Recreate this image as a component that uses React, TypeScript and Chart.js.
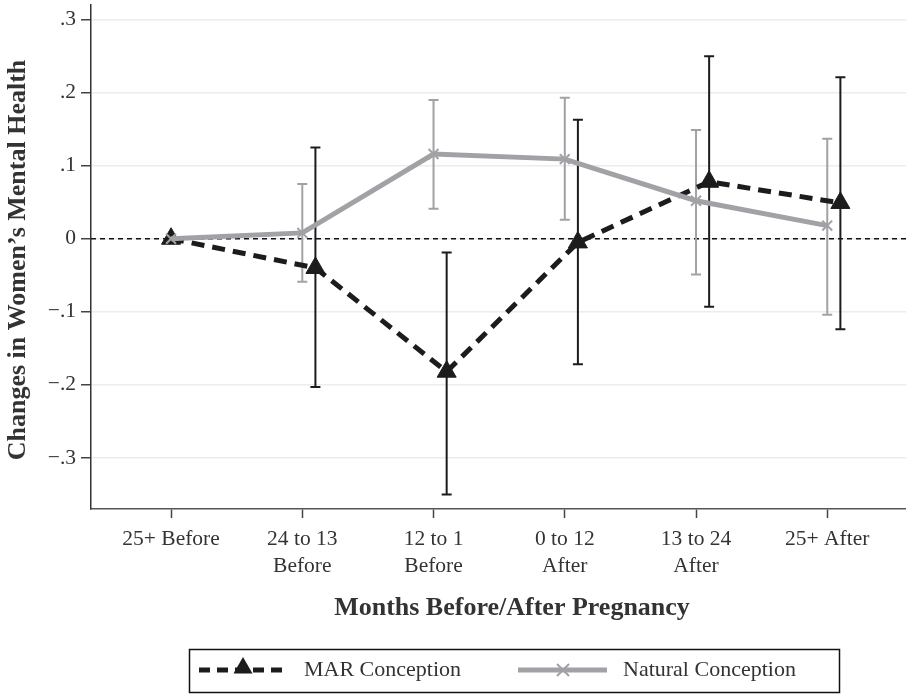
import React, { useEffect, useRef } from "react";
import { Chart, registerables } from "chart.js";

Chart.register(...registerables);

const categories: string[][] = [
  ["25+ Before"],
  ["24 to 13", "Before"],
  ["12 to 1", "Before"],
  ["0 to 12", "After"],
  ["13 to 24", "After"],
  ["25+ After"],
];
const marEstimate = [0, -0.04, -0.182, -0.005, 0.078, 0.049];
const marLower = [null, -0.203, -0.35, -0.172, -0.093, -0.124];
const marUpper = [null, 0.125, -0.019, 0.163, 0.25, 0.221];
const natEstimate = [0, 0.008, 0.116, 0.109, 0.052, 0.018];
const natLower = [null, -0.059, 0.041, 0.026, -0.049, -0.104];
const natUpper = [null, 0.075, 0.19, 0.193, 0.149, 0.137];
const yTicks = [-0.3, -0.2, -0.1, 0, 0.1, 0.2, 0.3];
const xTitle = "Months Before/After Pregnancy";
const yTitle = "Changes in Women\u2019s Mental Health";
const legendLabels = ["MAR Conception", "Natural Conception"];

const MAR_COLOR = "#1c1c1c";
const NAT_COLOR = "#a2a2a6";
const TEXT_COLOR = "#333333";
const SERIF = "'Liberation Serif', 'Times New Roman', serif";
const MAR_SHIFT = 0.1;

const marX = (i: number) => i + (i === 0 ? 0 : MAR_SHIFT);

function fmtTick(v: number): string {
  if (Math.abs(v) < 1e-9) return "0";
  return (v < 0 ? "\u2212" : "") + "." + Math.round(Math.abs(v) * 10);
}

function drawTriangle(ctx: CanvasRenderingContext2D, x: number, y: number, r: number, color: string) {
  ctx.save();
  ctx.fillStyle = color;
  ctx.beginPath();
  let a = 0;
  ctx.moveTo(x + Math.sin(a) * r, y - Math.cos(a) * r);
  a += (2 * Math.PI) / 3;
  ctx.lineTo(x + Math.sin(a) * r, y - Math.cos(a) * r);
  a += (2 * Math.PI) / 3;
  ctx.lineTo(x + Math.sin(a) * r, y - Math.cos(a) * r);
  ctx.closePath();
  ctx.fill();
  ctx.restore();
}

function drawX(ctx: CanvasRenderingContext2D, x: number, y: number, r: number, color: string) {
  ctx.save();
  ctx.strokeStyle = color;
  ctx.lineWidth = 2;
  ctx.beginPath();
  ctx.moveTo(x - r, y - r);
  ctx.lineTo(x + r, y + r);
  ctx.moveTo(x - r, y + r);
  ctx.lineTo(x + r, y - r);
  ctx.stroke();
  ctx.restore();
}

const decorPlugin = {
  id: "decor",
  beforeDatasetsDraw(chart: any) {
    const { ctx, scales, chartArea } = chart;
    const xs = scales.x;
    const ys = scales.y;
    ctx.save();
    ctx.strokeStyle = "#111";
    ctx.lineWidth = 1.6;
    ctx.setLineDash([5, 4]);
    ctx.beginPath();
    const y0 = ys.getPixelForValue(0);
    ctx.moveTo(chartArea.left, y0);
    ctx.lineTo(chartArea.right, y0);
    ctx.stroke();
    ctx.restore();

    const drawBars = (lo: (number | null)[], hi: (number | null)[], xf: (i: number) => number, color: string) => {
      ctx.save();
      ctx.strokeStyle = color;
      ctx.lineWidth = 2;
      ctx.setLineDash([]);
      for (let i = 0; i < lo.length; i++) {
        const l = lo[i];
        const h = hi[i];
        if (l === null || h === null) continue;
        const px = xs.getPixelForValue(xf(i));
        const pl = ys.getPixelForValue(l);
        const ph = ys.getPixelForValue(h);
        ctx.beginPath();
        ctx.moveTo(px, pl);
        ctx.lineTo(px, ph);
        ctx.moveTo(px - 5, pl);
        ctx.lineTo(px + 5, pl);
        ctx.moveTo(px - 5, ph);
        ctx.lineTo(px + 5, ph);
        ctx.stroke();
      }
      ctx.restore();
    };
    drawBars(natLower, natUpper, (i) => i, NAT_COLOR);
    drawBars(marLower, marUpper, marX, MAR_COLOR);
  },
  afterDraw(chart: any) {
    const { ctx } = chart;
    ctx.save();
    ctx.fillStyle = TEXT_COLOR;
    ctx.font = `bold 26px ${SERIF}`;
    ctx.textAlign = "center";
    ctx.textBaseline = "middle";
    ctx.save();
    ctx.translate(18, 260);
    ctx.rotate(-Math.PI / 2);
    ctx.fillText(yTitle, 0, 0);
    ctx.restore();
    ctx.fillText(xTitle, 512, 608);

    ctx.strokeStyle = "#111";
    ctx.lineWidth = 1.5;
    ctx.strokeRect(189.5, 649.5, 650, 43);
    const ly = 670;
    ctx.save();
    ctx.strokeStyle = MAR_COLOR;
    ctx.lineWidth = 5;
    ctx.setLineDash([11, 7]);
    ctx.beginPath();
    ctx.moveTo(199, ly);
    ctx.lineTo(288, ly);
    ctx.stroke();
    ctx.restore();
    drawTriangle(ctx, 243, ly - 2, 11, MAR_COLOR);
    ctx.save();
    ctx.strokeStyle = NAT_COLOR;
    ctx.lineWidth = 5;
    ctx.beginPath();
    ctx.moveTo(518, ly);
    ctx.lineTo(607, ly);
    ctx.stroke();
    ctx.restore();
    drawX(ctx, 563, ly, 6, NAT_COLOR);

    ctx.fillStyle = TEXT_COLOR;
    ctx.font = `22px ${SERIF}`;
    ctx.textAlign = "left";
    ctx.textBaseline = "middle";
    ctx.fillText(legendLabels[0], 304, ly);
    ctx.fillText(legendLabels[1], 623, ly);
    ctx.restore();
  },
};

export default function App() {
  const ref = useRef<HTMLCanvasElement | null>(null);
  useEffect(() => {
    if (!ref.current) return;
    const chart = new Chart(ref.current, {
      type: "line",
      data: {
        datasets: [
          {
            label: legendLabels[1],
            data: natEstimate.map((v, i) => ({ x: i, y: v })),
            borderColor: NAT_COLOR,
            backgroundColor: NAT_COLOR,
            borderWidth: 5,
            pointStyle: "crossRot",
            pointRadius: 7,
            pointBorderWidth: 2,
            pointBorderColor: NAT_COLOR,
            order: 0,
          },
          {
            label: legendLabels[0],
            data: marEstimate.map((v, i) => ({ x: marX(i), y: v })),
            borderColor: MAR_COLOR,
            backgroundColor: MAR_COLOR,
            borderWidth: 5,
            borderDash: [13, 8],
            pointStyle: "triangle",
            pointRadius: 11,
            pointBorderWidth: 1,
            pointBorderColor: MAR_COLOR,
            order: 1,
          },
        ],
      },
      options: {
        animation: false,
        responsive: false,
        devicePixelRatio: 1,
        layout: { autoPadding: false, padding: { top: 5, right: 0, bottom: 0, left: 0 } },
        plugins: { legend: { display: false }, tooltip: { enabled: false } },
        scales: {
          x: {
            type: "linear",
            min: -0.61,
            max: 5.6,
            afterBuildTicks: (axis: any) => {
              axis.ticks = categories.map((_, i) => ({ value: i }));
            },
            afterFit: (axis: any) => {
              axis.height = 186;
              axis.paddingLeft = 0;
              axis.paddingRight = 0;
            },
            ticks: {
              callback: (v: any) => categories[Math.round(Number(v))] as any,
              font: { family: SERIF, size: 21.5, lineHeight: 1.26 },
              color: TEXT_COLOR,
              padding: 8,
              maxRotation: 0,
              autoSkip: false,
            },
            grid: {
              drawOnChartArea: false,
              drawTicks: true,
              tickLength: 9,
              tickColor: "#444",
              tickWidth: 1.5,
            },
            border: { color: "#555", width: 1.5 },
          },
          y: {
            type: "linear",
            min: -0.37,
            max: 0.32,
            afterBuildTicks: (axis: any) => {
              axis.ticks = yTicks.map((v) => ({ value: v }));
            },
            afterFit: (axis: any) => {
              axis.width = 91;
              axis.paddingTop = 0;
              axis.paddingBottom = 0;
            },
            ticks: {
              callback: (v: any) => fmtTick(Number(v)),
              font: { family: SERIF, size: 21.5 },
              color: TEXT_COLOR,
              padding: 5,
            },
            grid: {
              color: "#ececec",
              lineWidth: 1.5,
              drawTicks: true,
              tickLength: 10,
              tickColor: "#444",
              tickWidth: 1.5,
            },
            border: { color: "#333", width: 1.5 },
          },
        },
      },
      plugins: [decorPlugin],
    } as any);
    return () => chart.destroy();
  }, []);
  return (
    <div style={{ position: "fixed", left: 0, top: 0, width: 906, height: 695, background: "#fff" }}>
      <canvas ref={ref} width={906} height={695} style={{ display: "block" }} />
    </div>
  );
}
